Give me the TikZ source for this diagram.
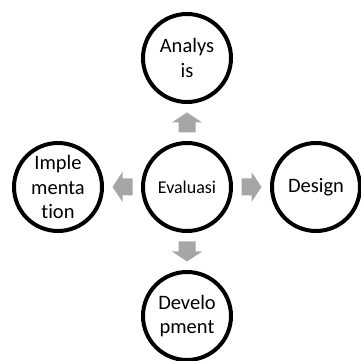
\documentclass[tikz,border=0pt]{standalone}
\usepackage{fontspec}
\setmainfont{Carlito}[Ligatures={NoCommon,NoContextual}]
\usetikzlibrary{calc}
\definecolor{arrowgray}{RGB}{166,166,166}
\tikzset{
  stage/.style={circle, draw=black, line width=4pt, minimum size=88pt, inner sep=0pt,
    align=center, font=\fontsize{20.5}{24.5}\selectfont},
  hub/.style={stage, font=\fontsize{18}{22}\selectfont},
  blockarrow/.pic={\fill[arrowgray] (-10pt,-8.5pt) -- (0pt,-8.5pt) -- (0pt,-15pt) -- (10pt,0pt)
      -- (0pt,15pt) -- (0pt,8.5pt) -- (-10pt,8.5pt) -- cycle;}
}
\begin{document}
\begin{tikzpicture}[x=1pt,y=1pt]
\useasboundingbox (0,0) rectangle (361,361);
\node[hub]   (e)   at (187,174) {Evaluasi};
\node[stage] (a)   at (187,303) {Analys\\is};
\node[stage] (d)   at (316,174) {Design};
\node[stage] (dev) at (187,45)  {Develo\\pment};
\node[stage] (imp) at (58,174)  {Imple\\menta\\tion};
\coordinate (ua) at ($(e)!0.5!(a)$);
\coordinate (ud) at ($(e)!0.5!(d)$);
\coordinate (udev) at ($(e)!0.5!(dev)$);
\coordinate (uimp) at ($(e)!0.5!(imp)$);
\pic[rotate=90]  at (ua)   {blockarrow};
\pic[rotate=0]   at (ud)   {blockarrow};
\pic[rotate=-90] at (udev) {blockarrow};
\pic[rotate=180] at (uimp) {blockarrow};
\end{tikzpicture}
\end{document}
